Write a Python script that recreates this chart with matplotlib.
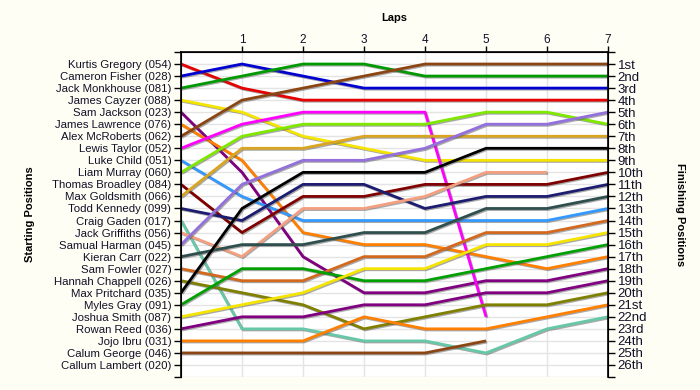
import numpy as np
import matplotlib
matplotlib.use('Agg')
import matplotlib.pyplot as plt
import matplotlib.patheffects as pe

nan = np.nan

# riders in starting order
riders = ['Kurtis Gregory (054)', 'Cameron Fisher (028)', 'Jack Monkhouse (081)',
          'James Cayzer (088)', 'Sam Jackson (023)', 'James Lawrence (076)',
          'Alex McRoberts (062)', 'Lewis Taylor (052)', 'Luke Child (051)',
          'Liam Murray (060)', 'Thomas Broadley (084)', 'Max Goldsmith (066)',
          'Todd Kennedy (099)', 'Craig Gaden (017)', 'Jack Griffiths (056)',
          'Samual Harman (045)', 'Kieran Carr (022)', 'Sam Fowler (027)',
          'Hannah Chappell (026)', 'Max Pritchard (035)', 'Myles Gray (091)',
          'Joshua Smith (087)', 'Rowan Reed (036)', 'Jojo Ibru (031)',
          'Calum George (046)', 'Callum Lambert (020)']

laps = [0, 1, 2, 3, 4, 5, 6, 7]

# position per lap (lap 0 = start)
positions = [
    [1, 3, 4, 4, 4, 4, 4, 4],
    [2, 1, 2, 3, 3, 3, 3, 3],
    [3, 2, 1, 1, 2, 2, 2, 2],
    [4, 5, 7, 8, 9, 9, 9, 9],
    [5, 10, 17, 20, 20, 19, 19, 18],
    [6, 9, 15, 16, 16, 17, 18, 17],
    [7, 4, 3, 2, 1, 1, 1, 1],
    [8, 6, 5, 5, 5, 22, nan, nan],
    [9, 12, 14, 14, 14, 14, 14, 13],
    [10, 7, 6, 6, 6, 5, 5, 6],
    [11, 15, 12, 12, 11, 11, 11, 10],
    [12, 8, 8, 7, 7, 7, 7, 7],
    [13, 14, 11, 11, 13, 12, 12, 11],
    [14, 23, 23, 24, 24, 25, 23, 22],
    [15, 17, 13, 13, 12, 10, 10, nan],
    [16, 11, 9, 9, 8, 6, 6, 5],
    [17, 16, 16, 15, 15, 13, 13, 12],
    [18, 19, 19, 17, 17, 15, 15, 14],
    [19, 20, 21, 23, 22, 21, 21, 20],
    [20, 13, 10, 10, 10, 8, 8, 8],
    [21, 18, 18, 19, 19, 18, 17, 16],
    [22, 21, 20, 18, 18, 16, 16, 15],
    [23, 22, 22, 21, 21, 20, 20, 19],
    [24, 24, 24, 22, 23, 23, 22, 21],
    [25, 25, 25, 25, 25, 24, nan, nan],
    [nan] * 8,
]

colors = ['#e60000', '#0000d0', '#009a00', '#f5e400', '#800080', '#ff7f00',
          '#8b4513', '#ff00ff', '#3399ff', '#80e800', '#800000', '#daa520',
          '#1c1c70', '#66c8a8', '#f4a080', '#9370db', '#2f4f4f', '#d2691e',
          '#808000', '#000000', '#00a000', '#f5e400', '#800080', '#ff7f00',
          '#8b4513', '#888888']

ordinals = ['1st', '2nd', '3rd'] + [f'{i}th' for i in range(4, 21)] + \
           ['21st', '22nd', '23rd', '24th', '25th', '26th']

n = len(riders)
bg = '#fffef4'
txt = '#101028'

fig = plt.figure(figsize=(7, 3.9), dpi=100, facecolor=bg)
ax = fig.add_axes([0.2586, 0.0333, 0.61, 0.8334])
ax.set_facecolor('white')

shadow = [pe.SimpleLineShadow(offset=(0.8, -0.8), shadow_color='#555555', alpha=0.5), pe.Normal()]
for pos, c in zip(positions, colors):
    ax.plot(laps, pos, color=c, lw=2.0, solid_capstyle='butt', path_effects=shadow)

ax.set_xlim(0, 7)
ax.set_ylim(n + 1, 0)

ax.set_yticks(range(0, n + 2))
ax.set_yticklabels([''] + riders + [''], fontsize=8.2, color=txt, family='Liberation Sans')
ax.xaxis.tick_top()
ax.set_xticks(laps[1:])
ax.set_xticklabels([str(l) for l in laps[1:]], fontsize=8.5, color=txt, family='Liberation Sans')
ax.tick_params(axis='y', direction='out', length=5, width=1, pad=2)
ax.tick_params(axis='x', direction='out', length=4, width=1, pad=0)

for l in laps[1:-1]:
    ax.axvline(l, color='#e4e4e4', lw=1, zorder=0)
for p in range(1, n + 2):
    ax.axhline(p, color='#e4e4e4', lw=1, zorder=0)

ax.spines['bottom'].set_visible(False)
for s in ['left', 'right', 'top']:
    ax.spines[s].set_linewidth(1.2)

ax2 = ax.twinx()
ax2.set_ylim(n + 1, 0)
ax2.set_yticks(range(0, n + 2))
ax2.set_yticklabels([''] + ordinals + [''], fontsize=9.5, color=txt, family='Liberation Sans')
ax2.tick_params(axis='y', direction='out', length=5, width=1, pad=2)
ax2.spines['bottom'].set_visible(False)

fig.text(0.563, 0.953, 'Laps', ha='center', va='center', fontsize=8, fontweight='bold', family='Liberation Sans')
fig.text(0.043, 0.45, 'Starting Positions', ha='center', va='center', rotation=90,
         fontsize=8, fontweight='bold', family='Liberation Sans')
fig.text(0.972, 0.45, 'Finishing Positions', ha='center', va='center', rotation=270,
         fontsize=8, fontweight='bold', family='Liberation Sans')

fig.savefig('out.png', dpi=100, facecolor=bg)
